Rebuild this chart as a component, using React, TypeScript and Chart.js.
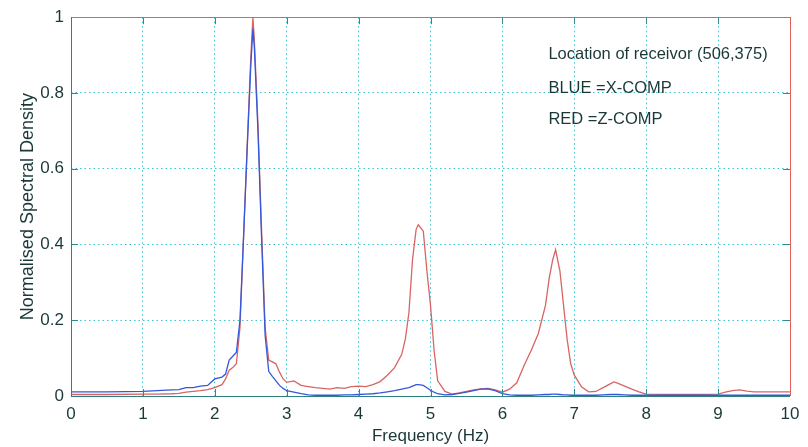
import React, { useEffect, useRef } from "react";
import { Chart, registerables } from "chart.js";

Chart.register(...registerables);

// Frequency (Hz)
const freq = [
  0.0, 0.5, 1.0, 1.2, 1.4, 1.5, 1.6, 1.7, 1.8, 1.9,
  2.0, 2.1, 2.15, 2.2, 2.25, 2.3, 2.35, 2.4, 2.45, 2.5,
  2.53, 2.55, 2.6, 2.65, 2.7, 2.75, 2.8, 2.85, 2.9, 2.95,
  3.0, 3.1, 3.2, 3.3, 3.4, 3.5, 3.6, 3.7, 3.8, 3.9,
  4.0, 4.1, 4.2, 4.3, 4.4, 4.5, 4.6, 4.65, 4.7, 4.75,
  4.8, 4.83, 4.9, 4.95, 5.0, 5.05, 5.1, 5.2, 5.3, 5.4,
  5.5, 5.6, 5.7, 5.8, 5.9, 6.0, 6.1, 6.2, 6.3, 6.4,
  6.5, 6.6, 6.65, 6.7, 6.74, 6.8, 6.85, 6.9, 6.95, 7.0,
  7.1, 7.2, 7.3, 7.4, 7.5, 7.55, 7.6, 7.7, 7.8, 7.9,
  8.0, 8.5, 9.0, 9.1, 9.2, 9.3, 9.4, 9.5, 10.0,
];

// BLUE = X-COMP
const xComp = [
  0.011, 0.011, 0.012, 0.014, 0.016, 0.017, 0.022, 0.022, 0.026, 0.028,
  0.045, 0.05, 0.058, 0.095, 0.105, 0.115, 0.2, 0.42, 0.65, 0.87,
  0.97, 0.92, 0.7, 0.42, 0.16, 0.065, 0.052, 0.04, 0.028, 0.02,
  0.014, 0.01, 0.006, 0.003, 0.002, 0.002, 0.002, 0.002, 0.003, 0.003,
  0.004, 0.005, 0.006, 0.008, 0.011, 0.014, 0.018, 0.02, 0.022, 0.026,
  0.03, 0.03, 0.028, 0.022, 0.015, 0.01, 0.006, 0.003, 0.004, 0.007,
  0.01, 0.014, 0.018, 0.019, 0.014, 0.006, 0.003, 0.002, 0.002, 0.002,
  0.003, 0.004, 0.004, 0.005, 0.005, 0.004, 0.003, 0.003, 0.002, 0.002,
  0.002, 0.002, 0.002, 0.003, 0.004, 0.004, 0.004, 0.003, 0.002, 0.002,
  0.002, 0.002, 0.002, 0.002, 0.002, 0.002, 0.002, 0.002, 0.002,
];

// RED = Z-COMP
const zComp = [
  0.004, 0.004, 0.005, 0.005, 0.006, 0.007, 0.01, 0.012, 0.014, 0.017,
  0.022, 0.03, 0.045, 0.068, 0.075, 0.085, 0.18, 0.42, 0.66, 0.89,
  1.0, 0.94, 0.72, 0.44, 0.18, 0.095, 0.09, 0.085, 0.063, 0.045,
  0.036, 0.04, 0.028, 0.025, 0.022, 0.02, 0.018, 0.022, 0.02, 0.025,
  0.026, 0.025, 0.03, 0.038, 0.055, 0.075, 0.11, 0.15, 0.22, 0.36,
  0.44, 0.452, 0.435, 0.33, 0.24, 0.12, 0.04, 0.012, 0.005, 0.008,
  0.012, 0.016, 0.019, 0.02, 0.016, 0.01, 0.018, 0.035, 0.08, 0.12,
  0.165, 0.24, 0.31, 0.36, 0.386, 0.33, 0.24, 0.15, 0.085, 0.055,
  0.024, 0.011, 0.012, 0.022, 0.032, 0.037, 0.034, 0.026, 0.018, 0.011,
  0.005, 0.004, 0.005, 0.01, 0.014, 0.016, 0.013, 0.011, 0.011,
];

const xTicks = [0, 1, 2, 3, 4, 5, 6, 7, 8, 9, 10];
const yTicks = [0, 0.2, 0.4, 0.6, 0.8, 1];
const annotationLines = [
  "Location of receivor (506,375)",
  "BLUE =X-COMP",
  "RED =Z-COMP",
];

const FONT = '"Liberation Sans", Arial, Helvetica, sans-serif';
const TEXT = "#1b3838";

const framePlugin = {
  id: "frame",
  afterDraw(chart: any) {
    const { ctx, chartArea, scales } = chart;
    const { left, right, top, bottom } = chartArea;
    const xs = scales.x;
    const ys = scales.y;
    ctx.save();
    ctx.lineWidth = 1;
    const line = (x1: number, y1: number, x2: number, y2: number) => {
      ctx.beginPath();
      ctx.moveTo(x1, y1);
      ctx.lineTo(x2, y2);
      ctx.stroke();
    };
    // inward ticks
    ctx.strokeStyle = "#2e8c8c";
    const tl = 7;
    xTicks.forEach((v) => {
      const px = Math.round(xs.getPixelForValue(v)) + 0.5;
      line(px, bottom, px, bottom - tl);
      line(px, top, px, top + tl);
    });
    yTicks.forEach((v) => {
      const py = Math.round(ys.getPixelForValue(v)) + 0.5;
      line(left, py, left + tl, py);
      line(right, py, right - tl, py);
    });
    // box
    ctx.strokeStyle = "#e06060";
    line(left, Math.round(top) + 0.5, right, Math.round(top) + 0.5);
    line(Math.round(right) + 0.5, top, Math.round(right) + 0.5, bottom);
    ctx.strokeStyle = "#2f8080";
    line(Math.round(left) + 0.5, top, Math.round(left) + 0.5, bottom);
    line(left, Math.round(bottom) + 0.5, right, Math.round(bottom) + 0.5);
    // annotation text
    ctx.fillStyle = TEXT;
    ctx.font = `16.5px ${FONT}`;
    ctx.textBaseline = "middle";
    ctx.textAlign = "left";
    const ax = xs.getPixelForValue(6.64);
    const ayVals = [0.901, 0.812, 0.729];
    annotationLines.forEach((t, i) => {
      ctx.fillText(t, ax, ys.getPixelForValue(ayVals[i]));
    });
    ctx.restore();
  },
};

export default function App() {
  const ref = useRef<HTMLCanvasElement>(null);
  useEffect(() => {
    if (!ref.current) return;
    const chart = new Chart(ref.current, {
      type: "line",
      data: {
        datasets: [
          {
            label: "X-COMP",
            data: freq.map((f, i) => ({ x: f, y: xComp[i] })),
            borderColor: "#3358dc",
            borderWidth: 1.3,
            pointRadius: 0,
            tension: 0,
            fill: false,
          },
          {
            label: "Z-COMP",
            data: freq.map((f, i) => ({ x: f, y: zComp[i] })),
            borderColor: "#d86464",
            borderWidth: 1.3,
            pointRadius: 0,
            tension: 0,
            fill: false,
          },
        ],
      },
      options: {
        animation: false,
        responsive: false,
        maintainAspectRatio: false,
        layout: { padding: { left: 0, right: 18, top: 15, bottom: 0 } },
        plugins: {
          legend: { display: false },
          tooltip: { enabled: false },
        },
        scales: {
          x: {
            type: "linear",
            min: 0,
            max: 10,
            afterBuildTicks: (s: any) => {
              s.ticks = xTicks.map((v) => ({ value: v }));
            },
            afterFit: (s: any) => {
              s.height = 51;
            },
            ticks: {
              color: TEXT,
              font: { family: FONT, size: 17 },
              padding: 8,
              maxRotation: 0,
              autoSkip: false,
              callback: (v: any) => String(v),
            },
            grid: {
              color: "#3cc4d0",
              lineWidth: 1,
              drawTicks: false,
            },
            border: { display: false, dash: [1.5, 3] },
            title: {
              display: true,
              text: "Frequency (Hz)",
              color: TEXT,
              font: { family: FONT, size: 17 },
              padding: { top: 0, bottom: 0 },
            },
          },
          y: {
            type: "linear",
            min: 0,
            max: 1,
            afterBuildTicks: (s: any) => {
              s.ticks = yTicks.map((v) => ({ value: v }));
            },
            afterFit: (s: any) => {
              s.width = 71;
            },
            ticks: {
              color: TEXT,
              font: { family: FONT, size: 17 },
              padding: 7,
              autoSkip: false,
              callback: (v: any) => String(v),
            },
            grid: {
              color: "#3cc4d0",
              lineWidth: 1,
              drawTicks: false,
            },
            border: { display: false, dash: [1.5, 3] },
            title: {
              display: true,
              text: "Normalised Spectral Density",
              color: TEXT,
              font: { family: FONT, size: 18 },
              padding: { top: 17, bottom: 0 },
            },
          },
        },
      },
      plugins: [framePlugin],
    } as any);
    return () => chart.destroy();
  }, []);
  return (
    <div
      style={{
        position: "fixed",
        left: 0,
        top: 0,
        width: 808,
        height: 447,
        background: "#ffffff",
      }}
    >
      <canvas ref={ref} width={808} height={447} style={{ width: 808, height: 447 }} />
    </div>
  );
}
